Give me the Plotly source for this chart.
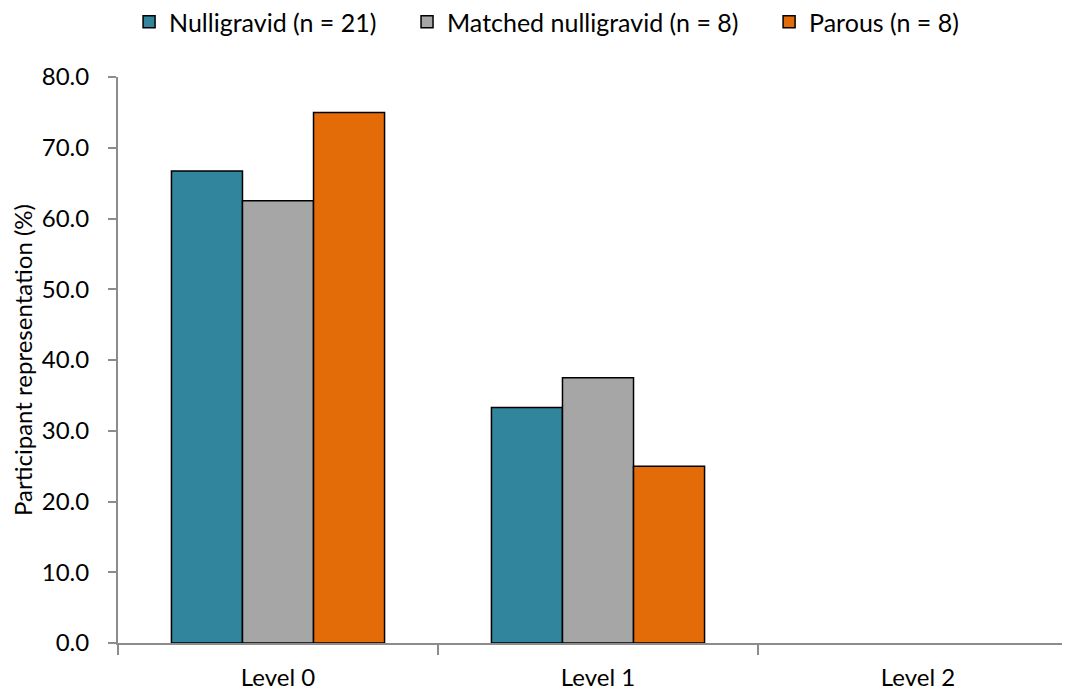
import plotly.graph_objects as go

categories = ["Level 0", "Level 1", "Level 2"]
series_names = ["Nulligravid (n = 21)", "Matched nulligravid (n = 8)", "Parous (n = 8)"]
nulligravid = [66.7, 33.3, 0.0]
matched = [62.5, 37.5, 0.0]
parous = [75.0, 25.0, 0.0]
colors = ["#31859C", "#A6A6A6", "#E36C09"]
y_ticks = [0, 10, 20, 30, 40, 50, 60, 70, 80]
y_ticktext = [f"{v:.1f}" for v in y_ticks]

font_family = "Lato, 'Open Sans', sans-serif"

fig = go.Figure()
for i, (name, vals, col) in enumerate(zip(series_names, [nulligravid, matched, parous], colors)):
    pad = "\u00a0" * 4 if i < 2 else ""
    fig.add_trace(go.Bar(
        x=categories, y=vals, name=name + pad,
        marker=dict(color=col,
                    line=dict(color="black", width=[1.5 if v > 0 else 0 for v in vals])),
    ))

fig.update_layout(
    width=1062, height=683,
    barmode="group", bargap=0.334, bargroupgap=0,
    plot_bgcolor="white", paper_bgcolor="white",
    margin=dict(l=110, r=0, t=69, b=39),
    font=dict(family=font_family, size=24, color="black"),
    showlegend=True,
    legend=dict(orientation="h", x=0.114, xanchor="left", y=0.9795, yanchor="middle",
                yref="container", xref="container", font=dict(size=25), itemwidth=30,
                traceorder="normal"),
    xaxis=dict(
        range=[-0.5, 2.475], tickson="boundaries", ticks="outside", ticklen=10,
        tickcolor="#8C8C8C", tickwidth=2, showline=True, linecolor="#8C8C8C", linewidth=2,
        showgrid=False, ticklabelstandoff=12, tickfont=dict(size=24),
    ),
    yaxis=dict(
        range=[0, 80], tickvals=y_ticks, ticktext=y_ticktext, ticks="outside", ticklen=8,
        tickcolor="#8C8C8C", tickwidth=2, showline=True, linecolor="#8C8C8C", linewidth=2,
        showgrid=False, zeroline=False, tickfont=dict(size=24), ticklabelstandoff=14,
        title=dict(text="Participant representation (%)", font=dict(size=24), standoff=13),
    ),
)

fig.write_html("out.html")
